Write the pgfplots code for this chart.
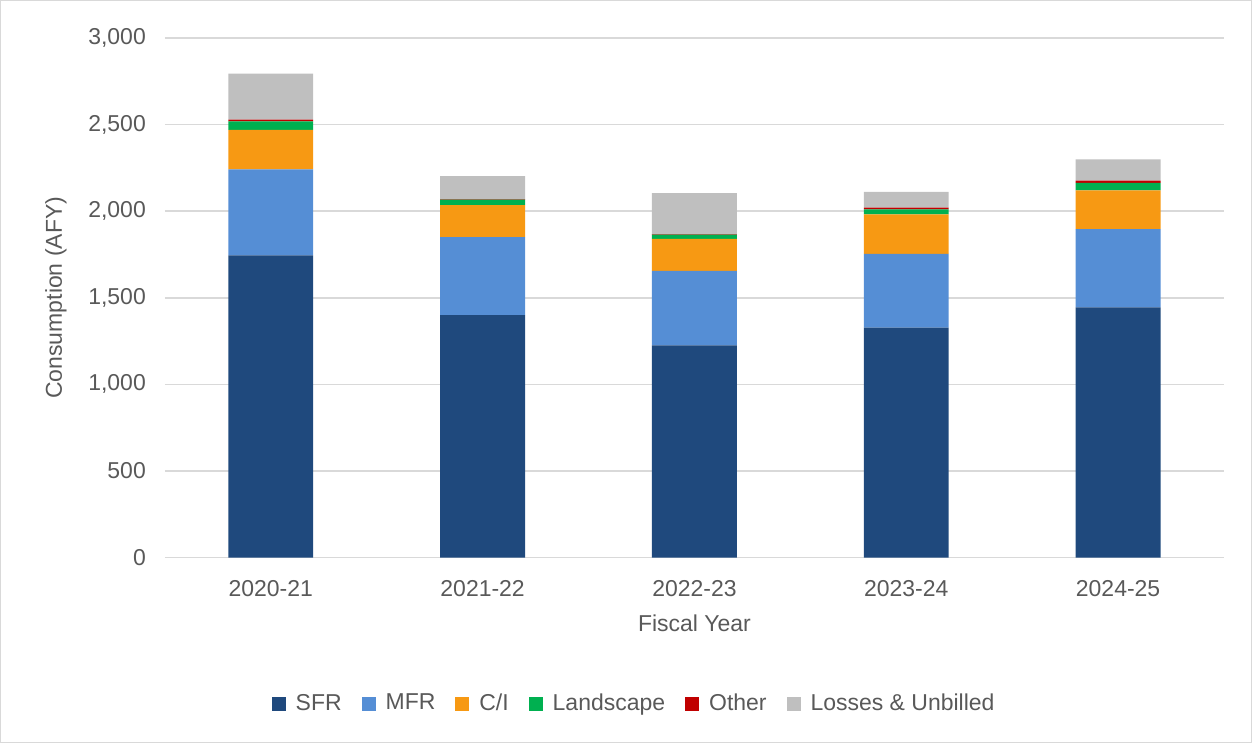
\documentclass[border=0pt]{standalone}
\usepackage{pgfplots}
\pgfplotsset{compat=1.18}
\usepackage{fontspec}
\setmainfont{Liberation Sans}
\definecolor{sfr}{RGB}{31,73,125}
\definecolor{mfr}{RGB}{85,142,213}
\definecolor{ci}{RGB}{247,153,19}
\definecolor{land}{RGB}{0,176,80}
\definecolor{oth}{RGB}{192,0,0}
\definecolor{loss}{RGB}{191,191,191}
\definecolor{txt}{RGB}{89,89,89}
\definecolor{grd}{RGB}{217,217,217}
\begin{document}
\begin{tikzpicture}
\draw[grd, line width=0.6pt] (-82.2pt,-92.7pt) rectangle (543.7pt,278.7pt);
\begin{axis}[
    at={(0,0)}, anchor=south west,
    scale only axis,
    width=530pt, height=260pt,
    ybar stacked,
    bar width=42.5pt,
    xmin=-0.5, xmax=4.5,
    ymin=0, ymax=3000,
    xtick={0,1,2,3,4},
    xticklabels={2020-21,2021-22,2022-23,2023-24,2024-25},
    ytick={0,500,1000,1500,2000,2500,3000},
    yticklabel style={/pgf/number format/1000 sep={,}},
    /pgf/number format/assume math mode=true,
    ymajorgrids=true,
    grid style={grd, line width=0.8pt},
    axis line style={draw=none},
    major tick length=0pt,
    tick label style={font=\fontsize{11.5}{13}\selectfont, text=txt},
    yticklabel style={xshift=-6pt},
    xticklabel style={yshift=-8pt},
    xlabel={Fiscal Year},
    ylabel={Consumption (AFY)},
    label style={font=\fontsize{11.5}{13}\selectfont, text=txt},
    xlabel style={yshift=-2pt},
    ylabel style={yshift=4pt},
    legend columns=6,
    legend style={draw=none, at={(0.444,-0.281)}, anchor=center,
        font=\fontsize{11.5}{13}\selectfont, text=txt,
        /tikz/every odd column/.append style={column sep=3pt},
        /tikz/every even column/.append style={column sep=8pt}},
    legend image code/.code={\fill[#1] (0pt,-3.5pt) rectangle (7pt,3.5pt);},
    every axis plot/.append style={draw=none},
]
\addplot[fill=sfr] coordinates {(0,1745) (1,1400) (2,1225) (3,1327) (4,1445)};
\addplot[fill=mfr] coordinates {(0,497) (1,450) (2,430) (3,427) (4,452)};
\addplot[fill=ci] coordinates {(0,227) (1,185) (2,185) (3,227) (4,223)};
\addplot[fill=land] coordinates {(0,50) (1,32) (2,25) (3,30) (4,43)};
\addplot[fill=oth] coordinates {(0,10) (1,3) (2,2) (3,10) (4,13)};
\addplot[fill=loss] coordinates {(0,265) (1,132) (2,237) (3,90) (4,123)};
\legend{SFR,MFR,C/I,Landscape,Other,Losses \& Unbilled}
\end{axis}
\end{tikzpicture}
\end{document}
